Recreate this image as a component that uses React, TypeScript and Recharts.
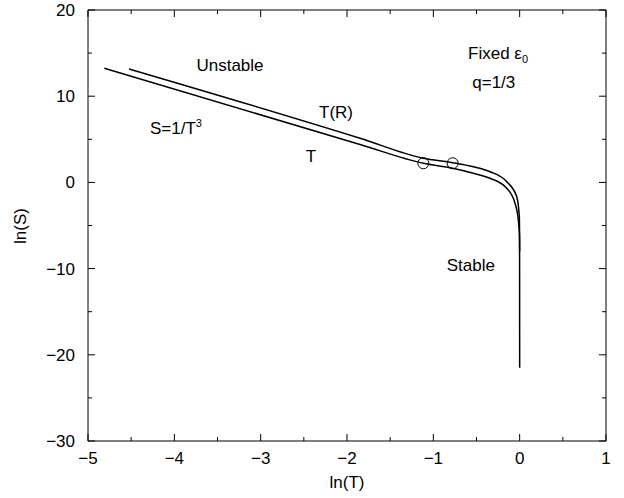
import { ComposedChart, Line, Scatter, XAxis, YAxis, ReferenceDot } from "recharts";

// ln(T) vs ln(S)
const CURVE_TR = [
  { x: -4.525, y: 13.16 }, { x: -1.849, y: 5.12 }, { x: -1.116, y: 2.8 }, { x: -0.776, y: 2.29 },
  { x: -0.537, y: 1.82 }, { x: -0.343, y: 1.24 }, { x: -0.15, y: 0.08 }, { x: -0.034, y: -1.66 },
  { x: -0.004, y: -3.98 }, { x: -0.001, y: -6.7 }, { x: 0, y: -21.5 },
];
const CURVE_T = [
  { x: -4.811, y: 13.24 }, { x: -1.849, y: 4.4 }, { x: -1.116, y: 2.22 }, { x: -0.776, y: 1.64 },
  { x: -0.537, y: 1.06 }, { x: -0.343, y: 0.48 }, { x: -0.15, y: -0.68 }, { x: -0.054, y: -2.42 },
  { x: -0.016, y: -4.36 }, { x: -0.002, y: -6.1 }, { x: 0, y: -8 },
];
const MARKERS = [{ x: -1.116, y: 2.22 }, { x: -0.776, y: 2.22 }];

const X_TICKS = [-5, -4.5, -4, -3.5, -3, -2.5, -2, -1.5, -1, -0.5, 0, 0.5, 1];
const Y_TICKS = [-30, -25, -20, -15, -10, -5, 0, 5, 10, 15, 20];

const NOTES = [
  { x: -3.355, y: 13.62, text: "Unstable" },
  { x: -2.127, y: 8.17, text: "T(R)" },
  { x: -2.417, y: 3.06, text: "T" },
  { x: -0.565, y: -9.58, text: "Stable" },
  { x: -0.3, y: 11.65, text: "q=1/3" },
];

const FONT = "'Liberation Sans', Arial, Helvetica, sans-serif";
const FS = 17;
const fmt = (v: number) => (v < 0 ? `\u2212${Math.abs(v)}` : `${v}`);
const isMajorX = (v: number) => Number.isInteger(v);
const isMajorY = (v: number) => v % 10 === 0;

const BottomTick = ({ x, y, payload }: any) => {
  const major = isMajorX(payload.value);
  return (
    <g>
      <line x1={x} x2={x} y1={y} y2={y - (major ? 7 : 4)} stroke="#000" />
      {major && <text x={x} y={y + 23} textAnchor="middle" fontSize={FS} fontFamily={FONT} fill="#000">{fmt(payload.value)}</text>}
    </g>
  );
};
const TopTick = ({ x, y, payload }: any) => (
  <line x1={x} x2={x} y1={y} y2={y + (isMajorX(payload.value) ? 7 : 4)} stroke="#000" />
);
const LeftTick = ({ x, y, payload }: any) => {
  const major = isMajorY(payload.value);
  return (
    <g>
      <line x1={x} x2={x + (major ? 7 : 4)} y1={y} y2={y} stroke="#000" />
      {major && <text x={x - 13} y={y + 6} textAnchor="end" fontSize={FS} fontFamily={FONT} fill="#000">{fmt(payload.value)}</text>}
    </g>
  );
};
const RightTick = ({ x, y, payload }: any) => (
  <line x1={x} x2={x - (isMajorY(payload.value) ? 7 : 4)} y1={y} y2={y} stroke="#000" />
);

const Ring = ({ cx, cy }: any) => <circle cx={cx} cy={cy} r={5.5} fill="none" stroke="#000" strokeWidth={1} />;

export default function App() {
  return (
    <div style={{ position: "absolute", left: 0, top: 0, background: "#fff" }}>
      <ComposedChart width={624} height={498} margin={{ top: 9, right: 17, bottom: 56, left: 87 }}>
        <XAxis xAxisId="b" type="number" dataKey="x" domain={[-5, 1]} ticks={X_TICKS} interval={0} height={1}
          tickSize={0} tickMargin={0} tick={BottomTick} axisLine={{ stroke: "#000" }} tickLine={false} allowDataOverflow
          label={{ content: () => <text x={347} y={488} textAnchor="middle" fontSize={FS} fontFamily={FONT} fill="#000">ln(T)</text> }} />
        <XAxis xAxisId="t" orientation="top" type="number" dataKey="x" domain={[-5, 1]} ticks={X_TICKS} interval={0} height={1}
          tickSize={0} tickMargin={0} tick={TopTick} axisLine={{ stroke: "#000" }} tickLine={false} allowDataOverflow />
        <YAxis yAxisId="l" type="number" domain={[-30, 20]} ticks={Y_TICKS} interval={0} width={1}
          tickSize={0} tickMargin={0} tick={LeftTick} axisLine={{ stroke: "#000" }} tickLine={false} allowDataOverflow
          label={{ content: () => <text x={26} y={226} textAnchor="middle" fontSize={FS} fontFamily={FONT} fill="#000" transform="rotate(-90 26 226)">ln(S)</text> }} />
        <YAxis yAxisId="r" orientation="right" type="number" domain={[-30, 20]} ticks={Y_TICKS} interval={0} width={1}
          tickSize={0} tickMargin={0} tick={RightTick} axisLine={{ stroke: "#000" }} tickLine={false} allowDataOverflow />
        <Line xAxisId="b" yAxisId="l" data={CURVE_TR} dataKey="y" type="monotone" stroke="#000" strokeWidth={1.5} dot={false} isAnimationActive={false} />
        <Line xAxisId="b" yAxisId="l" data={CURVE_T} dataKey="y" type="monotone" stroke="#000" strokeWidth={1.5} dot={false} isAnimationActive={false} />
        <Scatter xAxisId="b" yAxisId="l" data={MARKERS} dataKey="y" shape={Ring} isAnimationActive={false} />
        {NOTES.map((n) => (
          <ReferenceDot key={n.text} xAxisId="b" yAxisId="l" x={n.x} y={n.y} r={0} fill="none" stroke="none"
            label={{ content: ({ viewBox }: any) => (
              <text x={viewBox.x} y={viewBox.y + 6} textAnchor="middle" fontSize={FS} fontFamily={FONT} fill="#000">{n.text}</text>
            ) }} />
        ))}
        <ReferenceDot xAxisId="b" yAxisId="l" x={-4.282} y={6.31} r={0} fill="none" stroke="none"
          label={{ content: ({ viewBox }: any) => (
            <text x={viewBox.x} y={viewBox.y + 6} fontSize={FS} fontFamily={FONT} fill="#000">S=1/T<tspan fontSize={11} dy={-7}>3</tspan></text>
          ) }} />
        <ReferenceDot xAxisId="b" yAxisId="l" x={-0.598} y={15.01} r={0} fill="none" stroke="none"
          label={{ content: ({ viewBox }: any) => (
            <text x={viewBox.x} y={viewBox.y + 6} fontSize={FS} fontFamily={FONT} fill="#000">Fixed ε<tspan fontSize={11} dy={4}>0</tspan></text>
          ) }} />
      </ComposedChart>
    </div>
  );
}
